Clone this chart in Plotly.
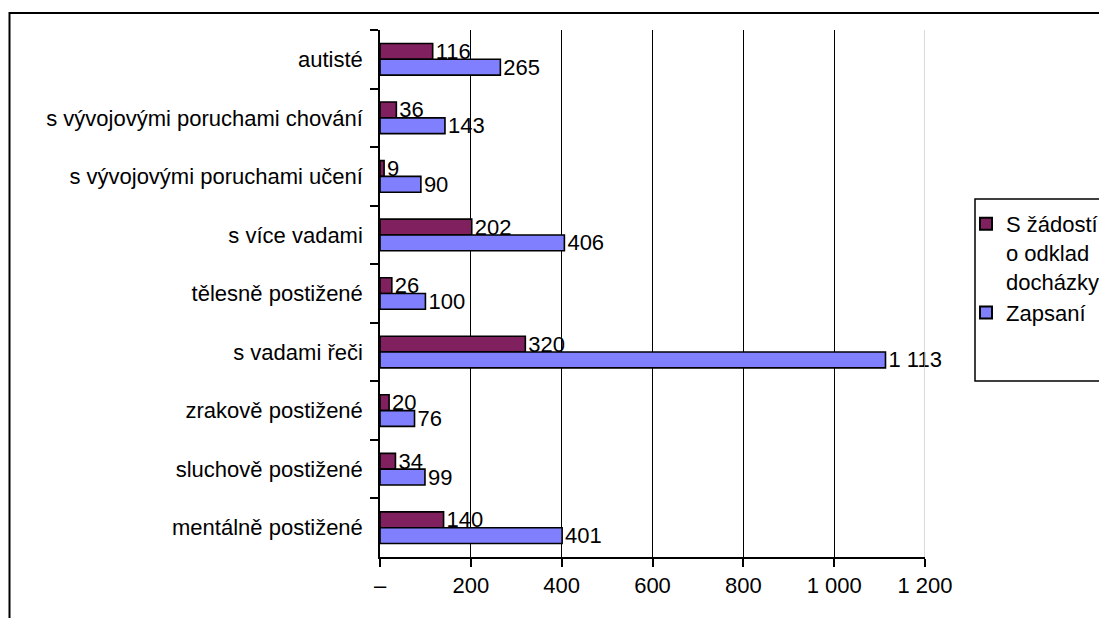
import plotly.graph_objects as go

categories = [
    "autisté",
    "s vývojovými poruchami chování",
    "s vývojovými poruchami učení",
    "s více vadami",
    "tělesně postižené",
    "s vadami řeči",
    "zrakově postižené",
    "sluchově postižené",
    "mentálně postižené",
]
odklad = [116, 36, 9, 202, 26, 320, 20, 34, 140]
zapsani = [265, 143, 90, 406, 100, 1113, 76, 99, 401]
series_names = ["S žádostí<br>o odklad<br>docházky", "Zapsaní"]
tick_vals = [0, 200, 400, 600, 800, 1000, 1200]
tick_text = ["–", "200", "400", "600", "800", "1 000", "1 200"]

W, H = 1099, 618
L, R, T, B = 380, 174, 30, 61
pw, ph = W - L - R, H - T - B

def px(x):
    return (x - L) / pw

def py(y):
    return (H - B - y) / ph

FONT = "Liberation Sans, Arial, sans-serif"
FS = 22

fig = go.Figure()
fig.add_trace(go.Bar(
    y=categories, x=odklad, orientation="h", name=series_names[0],
    marker=dict(color="#80205F", line=dict(color="black", width=1.6)),
    texttemplate="%{x:,}", textposition="outside", cliponaxis=False,
    constraintext="none", textfont=dict(size=FS, color="black", family=FONT),
))
fig.add_trace(go.Bar(
    y=categories, x=zapsani, orientation="h", name=series_names[1],
    marker=dict(color="#8080FF", line=dict(color="black", width=1.6)),
    texttemplate="%{x:,}", textposition="outside", cliponaxis=False,
    constraintext="none", textfont=dict(size=FS, color="black", family=FONT),
))

shapes = [
    dict(type="line", xref="x", yref="paper", x0=1200, x1=1200, y0=0, y1=1,
         line=dict(color="#C0C0C0", width=1.2), layer="above"),
    dict(type="rect", xref="paper", yref="paper", x0=px(975), x1=px(1115),
         y0=py(381), y1=py(199), line=dict(color="black", width=1.5)),
    dict(type="rect", xref="paper", yref="paper", x0=px(9.5), x1=px(1115),
         y0=py(640), y1=py(13), line=dict(color="black", width=2)),
]

fig.update_layout(
    width=W, height=H,
    margin=dict(l=L, r=R, t=T, b=B, autoexpand=False),
    paper_bgcolor="white", plot_bgcolor="white",
    barmode="group", bargap=0.46, bargroupgap=0,
    separators=", ",
    font=dict(family=FONT, size=FS, color="black"),
    showlegend=True,
    legend=dict(x=px(966), y=py(203), xanchor="left", yanchor="top",
                bgcolor="rgba(0,0,0,0)", borderwidth=0, valign="top",
                font=dict(size=FS, color="black", family=FONT),
                itemsizing="constant", traceorder="normal"),
    shapes=shapes,
)
fig.update_xaxes(
    range=[0, 1200], tickvals=tick_vals, ticktext=tick_text,
    showgrid=True, gridcolor="black", gridwidth=1,
    zeroline=False, showline=True, linecolor="black", linewidth=1.5,
    ticks="outside", ticklen=8, tickcolor="black", tickwidth=1.5,
    tickfont=dict(size=FS, color="black"),
)
fig.update_yaxes(
    autorange="reversed", categoryorder="array", categoryarray=categories,
    showgrid=False, zeroline=False, showline=True, linecolor="black", linewidth=1.5,
    ticks="outside", ticklen=8, tickcolor="black", tickwidth=1.5,
    tickson="boundaries", ticklabelstandoff=11,
    tickfont=dict(size=FS, color="black"),
)

fig.write_html("out.html", config={"displayModeBar": False},
               post_script="document.body.style.margin='0';")
